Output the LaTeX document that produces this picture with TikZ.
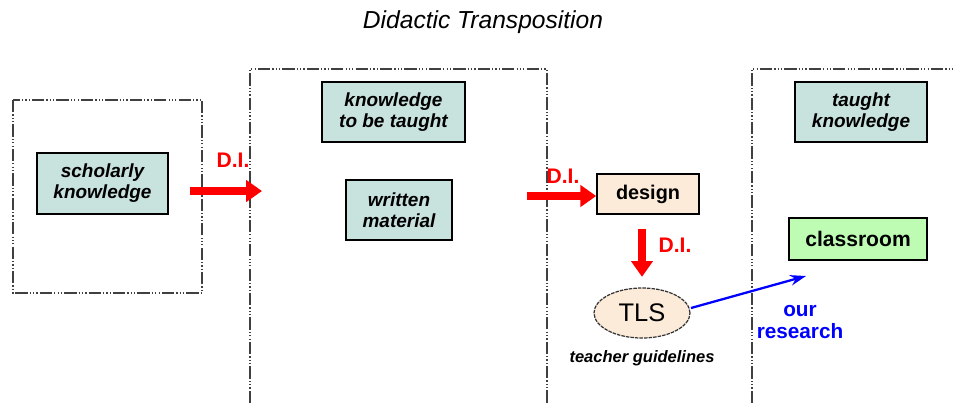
\documentclass[tikz,border=0pt]{standalone}
\usepackage{fontspec}
\setmainfont{Liberation Sans}
\usetikzlibrary{arrows.meta,shapes.geometric}
\definecolor{boxteal}{RGB}{200,226,222}
\definecolor{boxbeige}{RGB}{253,235,218}
\definecolor{boxgreen}{RGB}{190,252,180}
\tikzset{
    frame/.style={draw=black!75, line width=0.7pt,
        dash pattern=on 7pt off 1.2pt on 0.7pt off 1.2pt on 0.7pt off 1.2pt on 0.7pt off 1.2pt},
    knowbox/.style={draw, line width=0.9pt, fill=boxteal, align=center, inner sep=0pt,
        font=\bfseries\itshape\fontsize{10.8}{12}\selectfont},
    di/.style={red, line width=4pt, -{Triangle[length=9pt,width=12pt]}},
    dilabel/.style={text=red, font=\bfseries\fontsize{12}{14}\selectfont},
}
\begin{document}
\begin{tikzpicture}[x=0.02cm, y=-0.02cm]
\useasboundingbox (0,0) rectangle (955,403);
% title
\node (title) at (483,22) {\itshape\fontsize{14}{16}\selectfont Didactic Transposition};
% frames
\draw[frame] (13,100) rectangle (202,293);
\draw[frame] (250,403) -- (250,69) -- (547,69) -- (547,403);
\draw[frame] (752,403) -- (752,69) -- (955,69);
% knowledge boxes
\node[knowbox, minimum width=2.62cm, minimum height=1.22cm] (scholarly) at (102.5,183.5) {scholarly\\knowledge};
\node[knowbox, minimum width=2.86cm, minimum height=1.2cm] (tobetaught) at (393.5,112) {knowledge\\to be taught};
\node[knowbox, minimum width=2.12cm, minimum height=1.2cm] (written) at (399,210) {written\\material};
\node[knowbox, minimum width=2.64cm, minimum height=1.2cm] (taught) at (861,112) {taught\\knowledge};
\node[draw, line width=0.9pt, fill=boxbeige, minimum width=2.04cm, minimum height=0.8cm,
    font=\bfseries\fontsize{11.3}{13}\selectfont] (design) at (648,194) {design};
\node[draw, line width=0.9pt, fill=boxgreen, minimum width=2.76cm, minimum height=0.84cm,
    font=\bfseries\fontsize{12}{14}\selectfont] (classroom) at (858,239) {classroom};
\node[ellipse, draw=black!80, line width=0.7pt, dashed, dash pattern=on 2pt off 0.6pt, fill=boxbeige,
    minimum width=1.92cm, minimum height=1cm, inner sep=0pt,
    font=\fontsize{14.5}{16}\selectfont] (tls) at (642,313) {TLS};
\node[font=\bfseries\itshape\fontsize{9.4}{11}\selectfont] (guidelines) at (642,358) {teacher guidelines};
% transposition arrows
\coordinate (di1s) at (190,191);
\coordinate (di1e) at (262,191);
\coordinate (di2s) at (527,196);
\draw[di] (di1s) -- (di1e);
\draw[di] (di2s) -- (di2s -| design.west);
\draw[di, shorten <=8pt, shorten >=6pt] (design.south -| tls.north) -- (tls.north);
\node[dilabel] (di1) at (233,160) {D.I.};
\node[dilabel] (di2) at (563,176) {D.I.};
\node[dilabel] (di3) at (675,245) {D.I.};
% research arrow
\coordinate (res) at (806,276);
\draw[blue, line width=1.3pt, -{Stealth[length=9pt,width=6pt]}] (691,308) -- (res);
\node[text=blue, align=center, font=\bfseries\fontsize{11.8}{13}\selectfont] (research) at (800,322) {our\\research};
\end{tikzpicture}
\end{document}
